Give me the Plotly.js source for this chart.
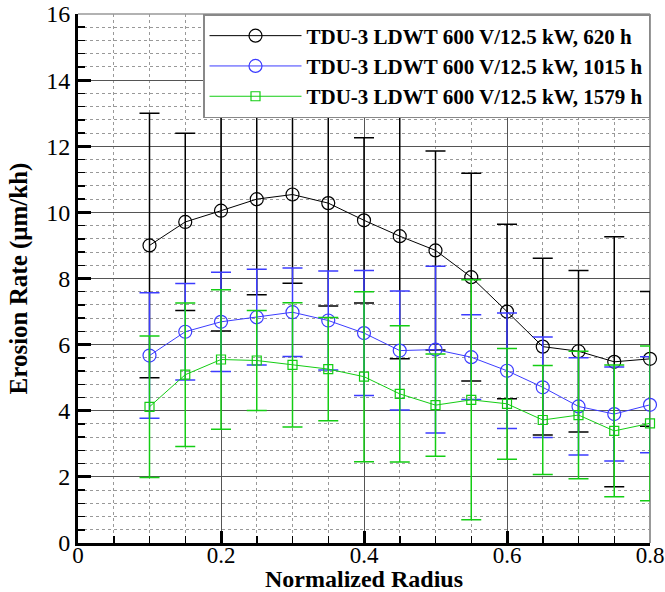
<!DOCTYPE html>
<html>
<head>
<meta charset="utf-8">
<script src="https://cdn.plot.ly/plotly-3.0.1.min.js"></script>
<style>html,body{margin:0;padding:0;background:#fff}#chart{width:665px;height:592px}</style>
</head>
<body>
<div id="chart"></div>
<script>
// Normalized radius positions
const radius = [0.1, 0.15, 0.2, 0.25, 0.3, 0.35, 0.4, 0.45, 0.5, 0.55, 0.6, 0.65, 0.7, 0.75, 0.8];

// Erosion rate (um/kh) and symmetric error bars
const rate620h  = [9.0, 9.71, 10.05, 10.4, 10.54, 10.28, 9.76, 9.28, 8.85, 8.04, 7.0, 5.94, 5.8, 5.48, 5.57];
const err620h   = [4.0, 2.68, 3.64, 2.89, 2.68, 3.11, 2.5, 3.71, 3.01, 3.14, 2.64, 2.67, 2.44, 3.78, 2.04];

const rate1015h = [5.67, 6.39, 6.69, 6.83, 6.98, 6.73, 6.35, 5.82, 5.85, 5.62, 5.21, 4.71, 4.13, 3.9, 4.18];
const err1015h  = [1.9, 1.46, 1.5, 1.45, 1.34, 1.5, 1.89, 1.8, 2.52, 1.28, 1.75, 1.52, 1.47, 1.42, 1.45];

const rate1579h = [4.12, 5.09, 5.55, 5.52, 5.39, 5.26, 5.03, 4.51, 4.17, 4.33, 4.21, 3.72, 3.87, 3.39, 3.62];
const err1579h  = [2.14, 2.17, 2.11, 1.51, 1.88, 1.56, 2.57, 2.06, 1.545, 3.63, 1.675, 1.645, 1.93, 1.99, 2.34];

const seriesNames = [
  'TDU-3 LDWT 600 V/12.5 kW, 620 h',
  'TDU-3 LDWT 600 V/12.5 kW, 1015 h',
  'TDU-3 LDWT 600 V/12.5 kW, 1579 h'
];

const FONT = '"Liberation Serif", "Times New Roman", serif';

function mk(name, y, err, color, symbol, size) {
  return {
    x: radius, y: y, name: name, type: 'scatter', mode: 'lines+markers',
    cliponaxis: false,
    line: {color: color, width: 1},
    marker: {symbol: symbol, size: size, color: color, line: {color: color, width: 1.2}},
    error_y: {type: 'data', array: err, visible: true, color: color, thickness: 1.5, width: 10}
  };
}

const traces = [
  mk(seriesNames[0], rate620h, err620h, '#000000', 'circle-open', 13),
  mk(seriesNames[1], rate1015h, err1015h, 'rgb(60,60,255)', 'circle-open', 13),
  mk(seriesNames[2], rate1579h, err1579h, 'rgb(20,205,20)', 'square-open', 9)
];

const layout = {
  width: 665, height: 592,
  margin: {l: 78, r: 15, t: 14, b: 49},
  paper_bgcolor: '#fff', plot_bgcolor: '#fff',
  font: {family: FONT, color: '#000'},
  showlegend: true,
  legend: {
    x: 1, y: 1, xanchor: 'right', yanchor: 'top',
    bgcolor: '#fff', bordercolor: '#888', borderwidth: 1.5,
    font: {family: FONT, size: 21, weight: 'bold', color: '#000'},
    itemwidth: 92, tracegroupgap: 0
  },
  shapes: [
    {type: 'line', xref: 'paper', yref: 'paper', x0: 0, x1: 1, y0: 1, y1: 1, line: {color: '#999', width: 1.5}, layer: 'below'},
    {type: 'line', xref: 'paper', yref: 'paper', x0: 1, x1: 1, y0: 0, y1: 1, line: {color: '#777', width: 1.5}, layer: 'below'}
  ],
  xaxis: {
    range: [0, 0.8], dtick: 0.2, tick0: 0,
    showline: true, linecolor: '#000', linewidth: 3,
    ticks: 'inside', ticklen: 12, tickwidth: 3, tickcolor: '#000',
    showgrid: true, gridcolor: '#555', gridwidth: 1,
    zeroline: false,
    ticklabelstandoff: -11,
    tickfont: {family: FONT, size: 23, color: '#000'},
    minor: {dtick: 0.05, ticks: 'inside', ticklen: 7, tickwidth: 1.5, tickcolor: '#000',
            showgrid: true, gridcolor: '#999', gridwidth: 1, griddash: 'dot'},
    title: {text: 'Normalized Radius', font: {family: FONT, size: 24, weight: 'bold', color: '#000'}, standoff: 6}
  },
  yaxis: {
    range: [0, 16], dtick: 2, tick0: 0,
    showline: true, linecolor: '#000', linewidth: 3,
    ticks: 'inside', ticklen: 13, tickwidth: 3, tickcolor: '#000',
    showgrid: true, gridcolor: '#555', gridwidth: 1,
    zeroline: false,
    tickfont: {family: FONT, size: 24, color: '#000'},
    minor: {dtick: 0.4, ticks: 'inside', ticklen: 7, tickwidth: 1.5, tickcolor: '#000',
            showgrid: true, gridcolor: '#999', gridwidth: 1, griddash: 'dot'},
    title: {text: 'Erosion Rate (μm/kh)', font: {family: FONT, size: 25, weight: 'bold', color: '#000'}, standoff: 12}
  }
};

Plotly.newPlot('chart', traces, layout, {displayModeBar: false, staticPlot: true});
</script>
</body>
</html>
